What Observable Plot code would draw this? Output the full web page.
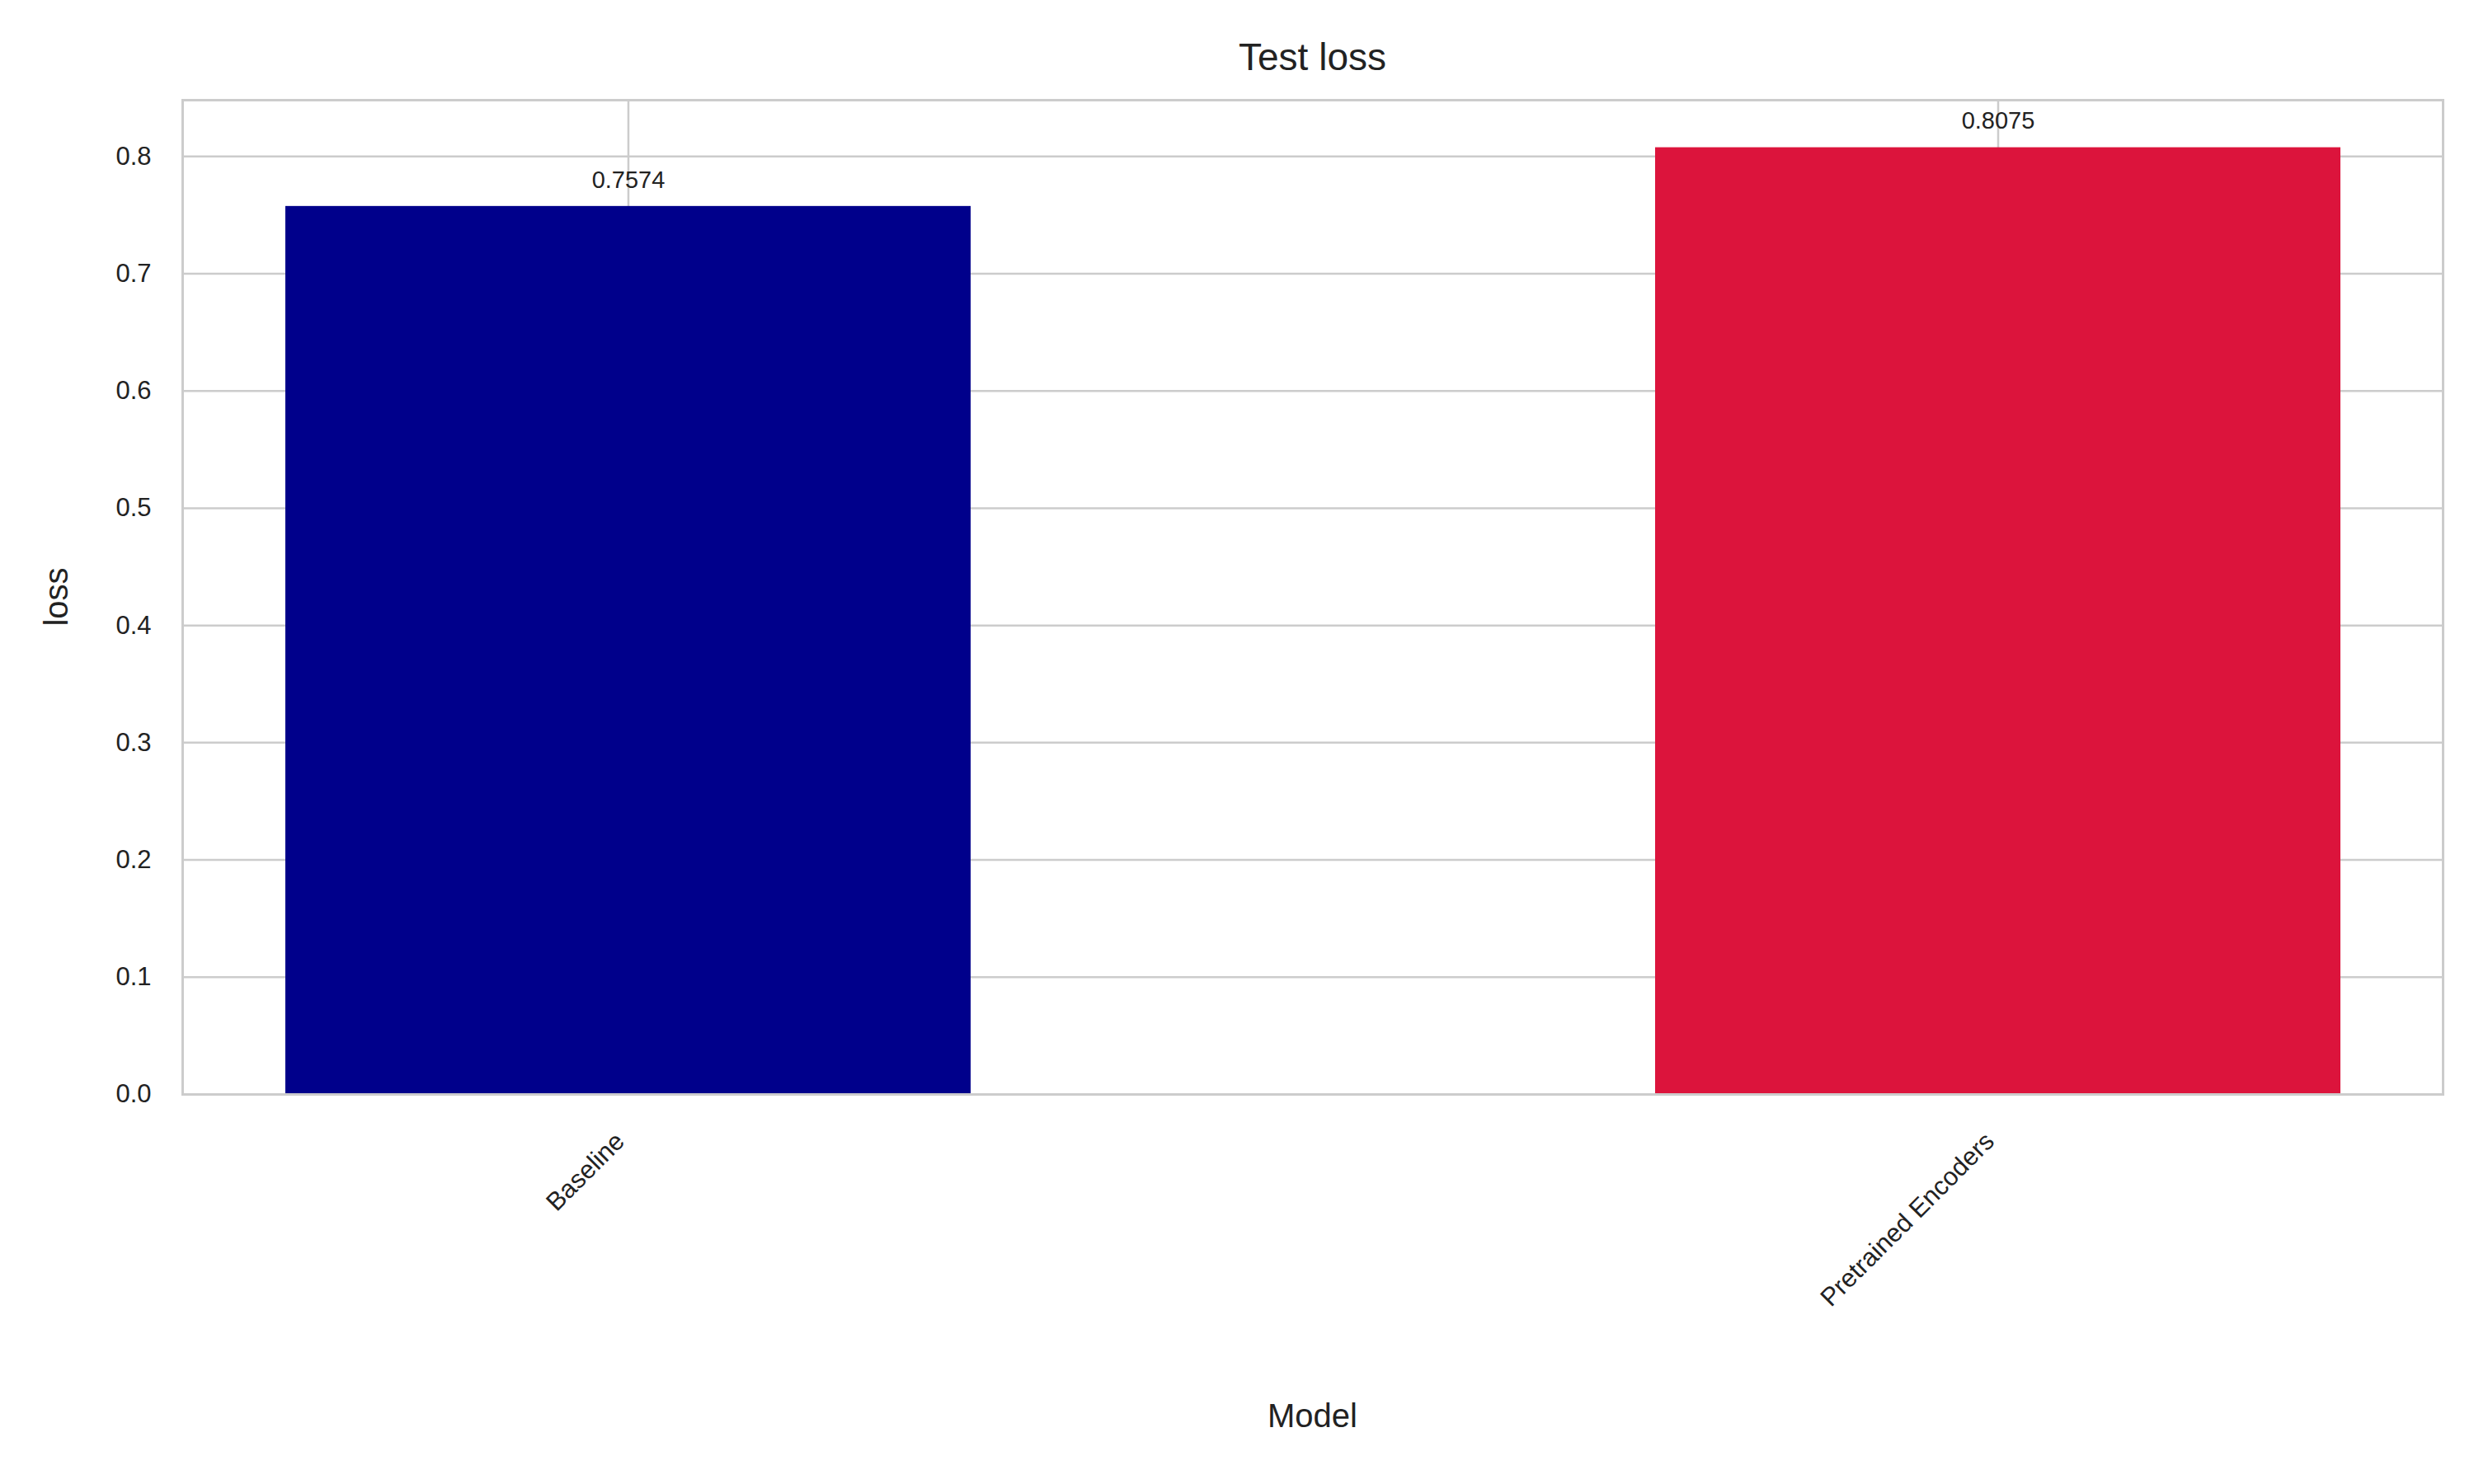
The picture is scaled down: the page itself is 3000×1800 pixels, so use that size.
<!DOCTYPE html>
<html>
<head>
<meta charset="utf-8">
<script src="https://cdn.jsdelivr.net/npm/d3@7"></script>
<script src="https://cdn.jsdelivr.net/npm/@observablehq/plot@0.6"></script>
<style>
  body { margin: 0; background: #fff; font-family: "Liberation Sans", Arial, sans-serif; }
  #title { position: absolute; left: 221px; width: 2741px; top: 42px; text-align: center; font-size: 46px; color: #222; }
  #chart { position: absolute; left: 0; top: 119px; }
</style>
</head>
<body>
<div id="title">Test loss</div>
<div id="chart"></div>
<script>
const models = ["Baseline", "Pretrained Encoders"];
const losses = [0.7574, 0.8075];
const colors = ["#00008b", "#dc143c"];
const yTicks = [0, 0.1, 0.2, 0.3, 0.4, 0.5, 0.6, 0.7, 0.8];

const data = models.map((m, i) => ({ model: m, loss: losses[i], color: colors[i] }));

const plot = Plot.plot({
  width: 3000,
  height: 1681,
  marginLeft: 221,
  marginRight: 38,
  marginTop: 2,
  marginBottom: 473,
  style: { fontFamily: "Liberation Sans, Arial, sans-serif", fontSize: "31px", color: "#222", background: "white" },
  x: { domain: models, paddingInner: 0.5, paddingOuter: 0.075, label: null, axis: null },
  y: { domain: [0, 0.848], label: null, axis: null },
  marks: [
    Plot.gridY(yTicks, { stroke: "#cccccc", strokeOpacity: 1, strokeWidth: 2.5 }),
    Plot.gridX(models, { stroke: "#cccccc", strokeOpacity: 1, strokeWidth: 2.5 }),
    Plot.barY(data, { x: "model", y: "loss", fill: "color" }),
    Plot.text(data, { x: "model", y: "loss", text: (d) => d.loss.toFixed(4), dy: -32, fontSize: 29, fill: "#222" }),
    Plot.axisY(yTicks, { tickSize: 0, tickPadding: 38, tickFormat: d3.format(".1f"), label: null, fontSize: 31 }),
    Plot.axisX(models, { tickSize: 0, tickRotate: -45, textAnchor: "end", dx: -10, dy: 40, label: null, fontSize: 31 }),
    Plot.frame({ stroke: "#cccccc", strokeWidth: 3 })
  ]
});
document.getElementById("chart").appendChild(plot);

const svg = d3.select(plot);
svg.append("text").attr("x", (221 + 2962) / 2).attr("y", 1612).attr("text-anchor", "middle")
  .attr("font-size", 40).attr("fill", "#222").text("Model");
svg.append("text").attr("transform", `translate(82, ${(2 + 1208) / 2}) rotate(-90)`).attr("text-anchor", "middle")
  .attr("font-size", 40).attr("fill", "#222").text("loss");
</script>
</body>
</html>
